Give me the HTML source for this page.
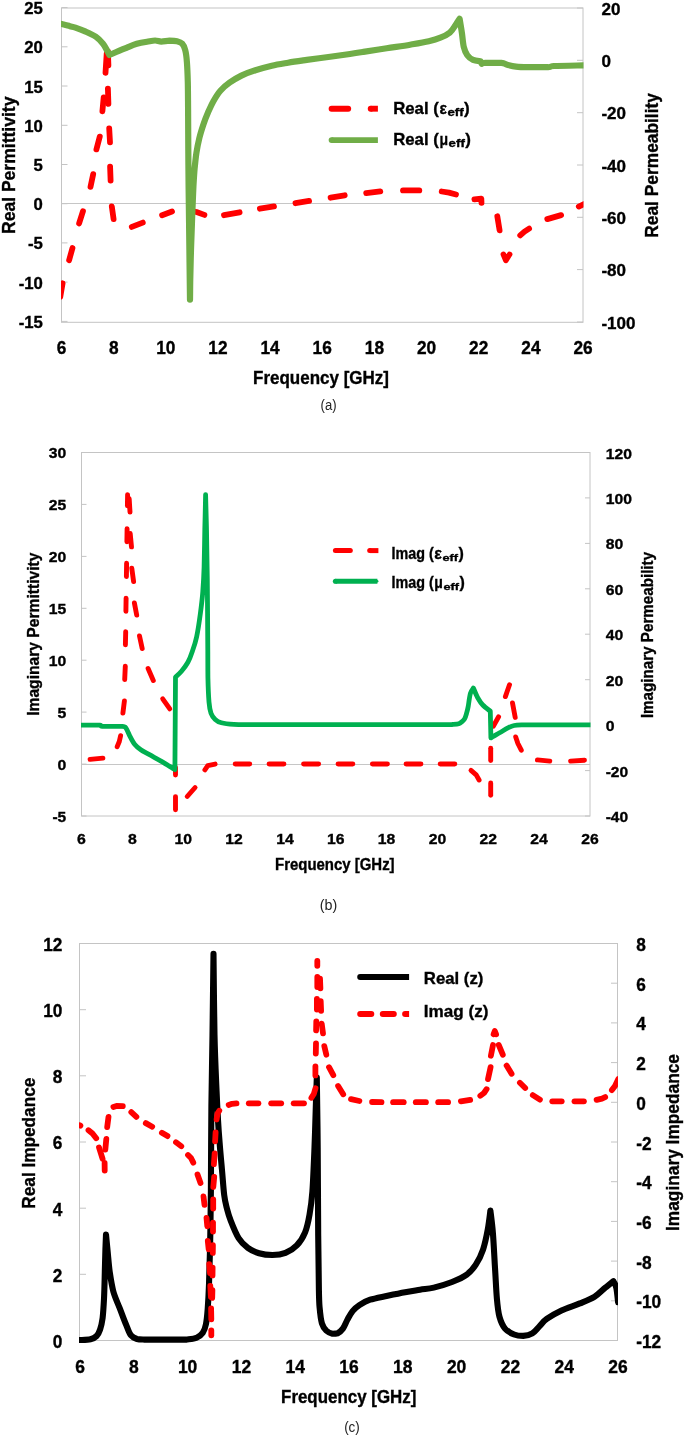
<!DOCTYPE html>
<html><head><meta charset="utf-8"><title>Figure</title>
<style>html,body{margin:0;padding:0;background:#fff;}svg{display:block;will-change:transform;}text{font-family:"Liberation Sans", sans-serif;}</style>
</head><body>
<svg width="685" height="1435" viewBox="0 0 685 1435">
<rect x="0" y="0" width="685" height="1435" fill="#fff"/>
<defs><clipPath id="ca"><rect x="61" y="8" width="522.5" height="314.3"/></clipPath></defs>
<rect x="61.5" y="8" width="521.5" height="314.3" fill="#fff" stroke="#c4c4c4" stroke-width="1"/>
<line x1="61.5" y1="7.6" x2="67.5" y2="7.6" stroke="#c4c4c4" stroke-width="1"/>
<line x1="61.5" y1="46.8" x2="67.5" y2="46.8" stroke="#c4c4c4" stroke-width="1"/>
<line x1="61.5" y1="86" x2="67.5" y2="86" stroke="#c4c4c4" stroke-width="1"/>
<line x1="61.5" y1="125.3" x2="67.5" y2="125.3" stroke="#c4c4c4" stroke-width="1"/>
<line x1="61.5" y1="164.5" x2="67.5" y2="164.5" stroke="#c4c4c4" stroke-width="1"/>
<line x1="61.5" y1="203.7" x2="67.5" y2="203.7" stroke="#c4c4c4" stroke-width="1"/>
<line x1="61.5" y1="242.9" x2="67.5" y2="242.9" stroke="#c4c4c4" stroke-width="1"/>
<line x1="61.5" y1="282.1" x2="67.5" y2="282.1" stroke="#c4c4c4" stroke-width="1"/>
<line x1="61.5" y1="321.4" x2="67.5" y2="321.4" stroke="#c4c4c4" stroke-width="1"/>
<line x1="577" y1="8" x2="583" y2="8" stroke="#c4c4c4" stroke-width="1"/>
<line x1="577" y1="60.3" x2="583" y2="60.3" stroke="#c4c4c4" stroke-width="1"/>
<line x1="577" y1="112.7" x2="583" y2="112.7" stroke="#c4c4c4" stroke-width="1"/>
<line x1="577" y1="165" x2="583" y2="165" stroke="#c4c4c4" stroke-width="1"/>
<line x1="577" y1="217.3" x2="583" y2="217.3" stroke="#c4c4c4" stroke-width="1"/>
<line x1="577" y1="269.6" x2="583" y2="269.6" stroke="#c4c4c4" stroke-width="1"/>
<line x1="577" y1="322" x2="583" y2="322" stroke="#c4c4c4" stroke-width="1"/>
<line x1="61.5" y1="203.5" x2="583" y2="203.5" stroke="#c6c6c6" stroke-width="1.2"/>
<path d="M60.3 296.8L62.6 283.3" fill="none" stroke="#ff0000" stroke-width="5.8" stroke-linecap="round" stroke-linejoin="round" clip-path="url(#ca)"/>
<path d="M69.1 260.2L72.5 248" fill="none" stroke="#ff0000" stroke-width="5.8" stroke-linecap="round" stroke-linejoin="round" clip-path="url(#ca)"/>
<path d="M79.1 223.4L83 211.2" fill="none" stroke="#ff0000" stroke-width="5.8" stroke-linecap="round" stroke-linejoin="round" clip-path="url(#ca)"/>
<path d="M90.5 186.8L93.2 174.1" fill="none" stroke="#ff0000" stroke-width="5.8" stroke-linecap="round" stroke-linejoin="round" clip-path="url(#ca)"/>
<path d="M96.4 149.4L99.8 136.6" fill="none" stroke="#ff0000" stroke-width="5.8" stroke-linecap="round" stroke-linejoin="round" clip-path="url(#ca)"/>
<path d="M102.4 111.3L103.7 97.3" fill="none" stroke="#ff0000" stroke-width="5.8" stroke-linecap="round" stroke-linejoin="round" clip-path="url(#ca)"/>
<path d="M105.5 72.8L106.7 53.7" fill="none" stroke="#ff0000" stroke-width="5.8" stroke-linecap="round" stroke-linejoin="round" clip-path="url(#ca)"/>
<path d="M107.9 51.3L108.4 65.3" fill="none" stroke="#ff0000" stroke-width="5.8" stroke-linecap="round" stroke-linejoin="round" clip-path="url(#ca)"/>
<path d="M107.9 88.6L108.4 103.8" fill="none" stroke="#ff0000" stroke-width="5.8" stroke-linecap="round" stroke-linejoin="round" clip-path="url(#ca)"/>
<path d="M109.2 128.3L110 142.3" fill="none" stroke="#ff0000" stroke-width="5.8" stroke-linecap="round" stroke-linejoin="round" clip-path="url(#ca)"/>
<path d="M110.1 166.7L110.6 180.6" fill="none" stroke="#ff0000" stroke-width="5.8" stroke-linecap="round" stroke-linejoin="round" clip-path="url(#ca)"/>
<path d="M111.8 206.4L113.6 219.1" fill="none" stroke="#ff0000" stroke-width="5.8" stroke-linecap="round" stroke-linejoin="round" clip-path="url(#ca)"/>
<path d="M131.8 226.9L142.8 222.6" fill="none" stroke="#ff0000" stroke-width="5.8" stroke-linecap="round" stroke-linejoin="round" clip-path="url(#ca)"/>
<path d="M162.1 215.2L172 211.5" fill="none" stroke="#ff0000" stroke-width="5.8" stroke-linecap="round" stroke-linejoin="round" clip-path="url(#ca)"/>
<path d="M193.2 211.3L196.5 212L204.4 214.9" fill="none" stroke="#ff0000" stroke-width="5.8" stroke-linecap="round" stroke-linejoin="round" clip-path="url(#ca)"/>
<path d="M224 215.2L239.6 212.3" fill="none" stroke="#ff0000" stroke-width="5.8" stroke-linecap="round" stroke-linejoin="round" clip-path="url(#ca)"/>
<path d="M259.9 208.7L274 206.4" fill="none" stroke="#ff0000" stroke-width="5.8" stroke-linecap="round" stroke-linejoin="round" clip-path="url(#ca)"/>
<path d="M295.5 203.2L309.1 200.9" fill="none" stroke="#ff0000" stroke-width="5.8" stroke-linecap="round" stroke-linejoin="round" clip-path="url(#ca)"/>
<path d="M330.6 197.7L344.7 195.3" fill="none" stroke="#ff0000" stroke-width="5.8" stroke-linecap="round" stroke-linejoin="round" clip-path="url(#ca)"/>
<path d="M366.2 193.1L380.3 191.4" fill="none" stroke="#ff0000" stroke-width="5.8" stroke-linecap="round" stroke-linejoin="round" clip-path="url(#ca)"/>
<path d="M403 190.4L419.3 190.4" fill="none" stroke="#ff0000" stroke-width="5.8" stroke-linecap="round" stroke-linejoin="round" clip-path="url(#ca)"/>
<path d="M441.7 191.5L449 192.6L456 194.5" fill="none" stroke="#ff0000" stroke-width="5.8" stroke-linecap="round" stroke-linejoin="round" clip-path="url(#ca)"/>
<path d="M474.4 199.4L481.3 198.6L481.5 202.9" fill="none" stroke="#ff0000" stroke-width="5.8" stroke-linecap="round" stroke-linejoin="round" clip-path="url(#ca)"/>
<path d="M497.3 216.3L499.6 230.4" fill="none" stroke="#ff0000" stroke-width="5.8" stroke-linecap="round" stroke-linejoin="round" clip-path="url(#ca)"/>
<path d="M520.2 235.4L524.5 231.6L529.1 228.6" fill="none" stroke="#ff0000" stroke-width="5.8" stroke-linecap="round" stroke-linejoin="round" clip-path="url(#ca)"/>
<path d="M547.3 219.1L561.1 215.1" fill="none" stroke="#ff0000" stroke-width="5.8" stroke-linecap="round" stroke-linejoin="round" clip-path="url(#ca)"/>
<path d="M578.8 206.6L584.5 203.9" fill="none" stroke="#ff0000" stroke-width="5.8" stroke-linecap="round" stroke-linejoin="round" clip-path="url(#ca)"/>
<path d="M503.4 254.4L505.9 260.4L509.6 254.4" fill="none" stroke="#ff0000" stroke-width="5.6" stroke-linecap="round" stroke-linejoin="round" clip-path="url(#ca)"/>
<path d="M61.5 24C62.9 24.4 67.6 25.6 69.9 26.2C72.2 26.8 72.8 26.7 75.4 27.6C78 28.5 82.3 30.1 85.7 31.6C89.1 33.1 93 34.8 95.9 36.8C98.8 38.8 101.1 41.4 103 43.7C104.9 46 106 48.7 107.1 50.6C108.2 52.5 109 54.3 109.4 55C110.6 54.5 113.5 53.2 116.3 52C119.1 50.8 123.1 49.2 126.5 47.8C129.9 46.4 133.4 44.8 136.8 43.8C140.2 42.8 143.9 42.2 147 41.7C150.1 41.2 152.7 40.5 155.1 40.5C157.5 40.5 158.9 41.6 161.3 41.6C163.7 41.6 166.8 40.8 169.4 40.7C172 40.7 174.9 40.7 177 41.2C179.1 41.7 180.8 42.2 182.2 43.7C183.6 45.2 184.4 47 185.2 50C186 53 186.5 56.7 186.9 62C187.3 67.3 187.6 74 187.8 82C188 90 188 98.7 188.1 110C188.2 121.3 188.2 137.2 188.3 150C188.4 162.8 188.4 170.3 188.6 187C188.8 203.7 189.2 231.2 189.4 250C189.6 268.8 189.9 291.3 190 299.6C190.1 295.9 190.1 285.6 190.3 277.2C190.5 268.8 190.7 258.7 191 249.4C191.3 240.1 191.7 230.8 192 221.5C192.3 212.2 192.8 200.6 193.1 193.6C193.4 186.6 193.5 184.3 193.8 179.7C194.1 175 194.4 170.3 194.9 165.7C195.4 161 195.8 156.4 196.6 151.8C197.3 147.2 198.3 142.5 199.4 137.9C200.5 133.3 202 128.7 203.4 124.5C204.8 120.3 206.1 116.9 207.8 113C209.5 109.1 211.3 104.9 213.4 101.2C215.5 97.5 217.7 93.8 220.4 90.7C223.1 87.6 226.2 85.1 229.7 82.6C233.2 80.1 237.1 77.7 241.4 75.6C245.7 73.5 250.3 71.8 255.4 70.2C260.5 68.6 266.4 67 271.8 65.7C277.2 64.5 282.3 63.7 288.1 62.7C293.9 61.7 299.8 60.9 306.8 59.9C313.8 58.9 323 57.8 330.2 56.8C337.4 55.8 344.5 54.8 350 54C355.5 53.2 357.3 52.9 363.4 51.9C369.5 50.9 378.9 49.4 386.7 48.2C394.5 47 403.1 45.9 410.1 44.7C417.1 43.5 423.8 42.4 428.8 41.2C433.9 40 436.9 39.1 440.4 37.7C443.9 36.3 447.3 34.7 449.8 32.6C452.3 30.5 454 27.2 455.6 24.9C457.2 22.6 458.9 19.8 459.6 18.8C460 21.2 461.2 28.3 461.9 33C462.6 37.7 462.9 43.3 463.8 47C464.7 50.7 465.8 53.1 467.3 55.2C468.9 57.4 470.9 58.9 473.1 59.9C475.3 60.9 479.3 61 480.5 61.2L481.8 63.9C482.4 63.7 482 63 485.3 62.8C488.6 62.8 497.8 62.8 501.4 62.8C505 63.1 504.8 64.2 507.2 64.8C509.6 65.4 512.6 66.2 516 66.6C519.4 67 522.2 67.1 527.6 67.2C533 67.2 543.7 67.2 548.1 67.2C552.5 67 548.1 66.3 553.9 66C559.8 65.7 578.6 65.5 583.5 65.4" fill="none" stroke="#70ad47" stroke-width="6.2" stroke-linecap="round" stroke-linejoin="round" clip-path="url(#ca)"/>
<path d="M331.6 108.7L348.2 108.7" fill="none" stroke="#ff0000" stroke-width="5.9" stroke-linecap="round" stroke-linejoin="round"/>
<path d="M370.7 108.7L377.9 108.7" fill="none" stroke="#ff0000" stroke-width="5.9" stroke-linecap="butt" stroke-linejoin="round"/>
<circle cx="370.7" cy="108.7" r="2.95" fill="#ff0000"/>
<path d="M331.6 140.1L377.9 140.1" fill="none" stroke="#70ad47" stroke-width="5.9" stroke-linecap="butt" stroke-linejoin="round"/>
<circle cx="331.6" cy="140.1" r="2.95" fill="#70ad47"/>
<text x="393.2" y="113.6" font-size="17" font-weight="bold" text-anchor="start" fill="#000" stroke="#000" stroke-width="0.35" textLength="45.6" lengthAdjust="spacingAndGlyphs">Real (</text>
<text x="439.4" y="113.6" font-size="17" font-weight="bold" text-anchor="start" fill="#000" stroke="#000" stroke-width="0.35" textLength="7.4" lengthAdjust="spacingAndGlyphs">ε</text>
<text x="447.4" y="115.8" font-size="10.2" font-weight="bold" text-anchor="start" fill="#000" stroke="#000" stroke-width="0.35" textLength="16.2" lengthAdjust="spacingAndGlyphs">eff</text>
<text x="464" y="113.6" font-size="17" font-weight="bold" text-anchor="start" fill="#000" stroke="#000" stroke-width="0.35">)</text>
<text x="393.2" y="144.6" font-size="17" font-weight="bold" text-anchor="start" fill="#000" stroke="#000" stroke-width="0.35" textLength="45.6" lengthAdjust="spacingAndGlyphs">Real (</text>
<text x="439.4" y="144.6" font-size="17" font-weight="bold" text-anchor="start" fill="#000" stroke="#000" stroke-width="0.35" textLength="8.6" lengthAdjust="spacingAndGlyphs">μ</text>
<text x="448.6" y="146.8" font-size="10.2" font-weight="bold" text-anchor="start" fill="#000" stroke="#000" stroke-width="0.35" textLength="16.2" lengthAdjust="spacingAndGlyphs">eff</text>
<text x="465.2" y="144.6" font-size="17" font-weight="bold" text-anchor="start" fill="#000" stroke="#000" stroke-width="0.35">)</text>
<text x="42.9" y="14.1" font-size="17" font-weight="bold" text-anchor="end" fill="#000" stroke="#000" stroke-width="0.35" textLength="18.6" lengthAdjust="spacingAndGlyphs">25</text>
<text x="42.9" y="53.3" font-size="17" font-weight="bold" text-anchor="end" fill="#000" stroke="#000" stroke-width="0.35" textLength="18.6" lengthAdjust="spacingAndGlyphs">20</text>
<text x="42.9" y="92.5" font-size="17" font-weight="bold" text-anchor="end" fill="#000" stroke="#000" stroke-width="0.35" textLength="18.6" lengthAdjust="spacingAndGlyphs">15</text>
<text x="42.9" y="131.8" font-size="17" font-weight="bold" text-anchor="end" fill="#000" stroke="#000" stroke-width="0.35" textLength="18.6" lengthAdjust="spacingAndGlyphs">10</text>
<text x="42.9" y="171" font-size="17" font-weight="bold" text-anchor="end" fill="#000" stroke="#000" stroke-width="0.35" textLength="9.3" lengthAdjust="spacingAndGlyphs">5</text>
<text x="42.9" y="210.2" font-size="17" font-weight="bold" text-anchor="end" fill="#000" stroke="#000" stroke-width="0.35" textLength="9.3" lengthAdjust="spacingAndGlyphs">0</text>
<text x="42.9" y="249.4" font-size="17" font-weight="bold" text-anchor="end" fill="#000" stroke="#000" stroke-width="0.35" textLength="14.9" lengthAdjust="spacingAndGlyphs">-5</text>
<text x="42.9" y="288.6" font-size="17" font-weight="bold" text-anchor="end" fill="#000" stroke="#000" stroke-width="0.35" textLength="24.2" lengthAdjust="spacingAndGlyphs">-10</text>
<text x="42.9" y="327.9" font-size="17" font-weight="bold" text-anchor="end" fill="#000" stroke="#000" stroke-width="0.35" textLength="24.2" lengthAdjust="spacingAndGlyphs">-15</text>
<text x="601.4" y="14.5" font-size="17" font-weight="bold" text-anchor="start" fill="#000" stroke="#000" stroke-width="0.35" textLength="19" lengthAdjust="spacingAndGlyphs">20</text>
<text x="601.4" y="66.8" font-size="17" font-weight="bold" text-anchor="start" fill="#000" stroke="#000" stroke-width="0.35" textLength="9.5" lengthAdjust="spacingAndGlyphs">0</text>
<text x="601.4" y="119.2" font-size="17" font-weight="bold" text-anchor="start" fill="#000" stroke="#000" stroke-width="0.35" textLength="24.6" lengthAdjust="spacingAndGlyphs">-20</text>
<text x="601.4" y="171.5" font-size="17" font-weight="bold" text-anchor="start" fill="#000" stroke="#000" stroke-width="0.35" textLength="24.6" lengthAdjust="spacingAndGlyphs">-40</text>
<text x="601.4" y="223.8" font-size="17" font-weight="bold" text-anchor="start" fill="#000" stroke="#000" stroke-width="0.35" textLength="24.6" lengthAdjust="spacingAndGlyphs">-60</text>
<text x="601.4" y="276.1" font-size="17" font-weight="bold" text-anchor="start" fill="#000" stroke="#000" stroke-width="0.35" textLength="24.6" lengthAdjust="spacingAndGlyphs">-80</text>
<text x="601.4" y="328.5" font-size="17" font-weight="bold" text-anchor="start" fill="#000" stroke="#000" stroke-width="0.35" textLength="34.1" lengthAdjust="spacingAndGlyphs">-100</text>
<text x="61.5" y="353.5" font-size="17.6" font-weight="bold" text-anchor="middle" fill="#000" stroke="#000" stroke-width="0.35" textLength="9.6" lengthAdjust="spacingAndGlyphs">6</text>
<text x="113.7" y="353.5" font-size="17.6" font-weight="bold" text-anchor="middle" fill="#000" stroke="#000" stroke-width="0.35" textLength="9.6" lengthAdjust="spacingAndGlyphs">8</text>
<text x="165.8" y="353.5" font-size="17.6" font-weight="bold" text-anchor="middle" fill="#000" stroke="#000" stroke-width="0.35" textLength="19.2" lengthAdjust="spacingAndGlyphs">10</text>
<text x="217.9" y="353.5" font-size="17.6" font-weight="bold" text-anchor="middle" fill="#000" stroke="#000" stroke-width="0.35" textLength="19.2" lengthAdjust="spacingAndGlyphs">12</text>
<text x="270.1" y="353.5" font-size="17.6" font-weight="bold" text-anchor="middle" fill="#000" stroke="#000" stroke-width="0.35" textLength="19.2" lengthAdjust="spacingAndGlyphs">14</text>
<text x="322.2" y="353.5" font-size="17.6" font-weight="bold" text-anchor="middle" fill="#000" stroke="#000" stroke-width="0.35" textLength="19.2" lengthAdjust="spacingAndGlyphs">16</text>
<text x="374.4" y="353.5" font-size="17.6" font-weight="bold" text-anchor="middle" fill="#000" stroke="#000" stroke-width="0.35" textLength="19.2" lengthAdjust="spacingAndGlyphs">18</text>
<text x="426.6" y="353.5" font-size="17.6" font-weight="bold" text-anchor="middle" fill="#000" stroke="#000" stroke-width="0.35" textLength="19.2" lengthAdjust="spacingAndGlyphs">20</text>
<text x="478.7" y="353.5" font-size="17.6" font-weight="bold" text-anchor="middle" fill="#000" stroke="#000" stroke-width="0.35" textLength="19.2" lengthAdjust="spacingAndGlyphs">22</text>
<text x="530.9" y="353.5" font-size="17.6" font-weight="bold" text-anchor="middle" fill="#000" stroke="#000" stroke-width="0.35" textLength="19.2" lengthAdjust="spacingAndGlyphs">24</text>
<text x="583" y="353.5" font-size="17.6" font-weight="bold" text-anchor="middle" fill="#000" stroke="#000" stroke-width="0.35" textLength="19.2" lengthAdjust="spacingAndGlyphs">26</text>
<text x="321" y="383.8" font-size="17.6" font-weight="bold" text-anchor="middle" fill="#000" stroke="#000" stroke-width="0.35" textLength="136" lengthAdjust="spacingAndGlyphs">Frequency [GHz]</text>
<text x="328.6" y="410" font-size="15.5" font-weight="normal" text-anchor="middle" fill="#222" textLength="16" lengthAdjust="spacingAndGlyphs">(a)</text>
<text x="14.6" y="165.3" font-size="17.6" font-weight="bold" text-anchor="middle" fill="#000" stroke="#000" stroke-width="0.35" textLength="137.4" lengthAdjust="spacingAndGlyphs" transform="rotate(-90 14.6 165.3)">Real Permittivity</text>
<text x="658.4" y="165.4" font-size="17.6" font-weight="bold" text-anchor="middle" fill="#000" stroke="#000" stroke-width="0.35" textLength="144.6" lengthAdjust="spacingAndGlyphs" transform="rotate(-90 658.4 165.4)">Real Permeability</text>
<defs><clipPath id="cb"><rect x="81" y="452.5" width="509.5" height="363.5"/></clipPath></defs>
<rect x="81.5" y="452.5" width="508.5" height="363.5" fill="#fff" stroke="#c4c4c4" stroke-width="1"/>
<line x1="81.5" y1="452.5" x2="86.5" y2="452.5" stroke="#c4c4c4" stroke-width="1"/>
<line x1="81.5" y1="504.4" x2="86.5" y2="504.4" stroke="#c4c4c4" stroke-width="1"/>
<line x1="81.5" y1="556.4" x2="86.5" y2="556.4" stroke="#c4c4c4" stroke-width="1"/>
<line x1="81.5" y1="608.3" x2="86.5" y2="608.3" stroke="#c4c4c4" stroke-width="1"/>
<line x1="81.5" y1="660.2" x2="86.5" y2="660.2" stroke="#c4c4c4" stroke-width="1"/>
<line x1="81.5" y1="712.1" x2="86.5" y2="712.1" stroke="#c4c4c4" stroke-width="1"/>
<line x1="81.5" y1="764.1" x2="86.5" y2="764.1" stroke="#c4c4c4" stroke-width="1"/>
<line x1="81.5" y1="816" x2="86.5" y2="816" stroke="#c4c4c4" stroke-width="1"/>
<line x1="585" y1="452.5" x2="590" y2="452.5" stroke="#c4c4c4" stroke-width="1"/>
<line x1="585" y1="497.9" x2="590" y2="497.9" stroke="#c4c4c4" stroke-width="1"/>
<line x1="585" y1="543.4" x2="590" y2="543.4" stroke="#c4c4c4" stroke-width="1"/>
<line x1="585" y1="588.8" x2="590" y2="588.8" stroke="#c4c4c4" stroke-width="1"/>
<line x1="585" y1="634.2" x2="590" y2="634.2" stroke="#c4c4c4" stroke-width="1"/>
<line x1="585" y1="679.7" x2="590" y2="679.7" stroke="#c4c4c4" stroke-width="1"/>
<line x1="585" y1="725.1" x2="590" y2="725.1" stroke="#c4c4c4" stroke-width="1"/>
<line x1="585" y1="770.6" x2="590" y2="770.6" stroke="#c4c4c4" stroke-width="1"/>
<line x1="585" y1="816" x2="590" y2="816" stroke="#c4c4c4" stroke-width="1"/>
<line x1="81.5" y1="764.5" x2="590" y2="764.5" stroke="#c6c6c6" stroke-width="1.2"/>
<path d="M90.1 759.4L102.9 758.1" fill="none" stroke="#ff0000" stroke-width="4.9" stroke-linecap="round" stroke-linejoin="round" clip-path="url(#cb)"/>
<path d="M117.2 746.7L119.3 741.5L120.6 735.7" fill="none" stroke="#ff0000" stroke-width="4.9" stroke-linecap="round" stroke-linejoin="round" clip-path="url(#cb)"/>
<path d="M122.9 713.1L124.4 701" fill="none" stroke="#ff0000" stroke-width="4.9" stroke-linecap="round" stroke-linejoin="round" clip-path="url(#cb)"/>
<path d="M124.7 679.6L125.3 666.2" fill="none" stroke="#ff0000" stroke-width="4.9" stroke-linecap="round" stroke-linejoin="round" clip-path="url(#cb)"/>
<path d="M125.4 644.9L125.7 631.6" fill="none" stroke="#ff0000" stroke-width="4.9" stroke-linecap="round" stroke-linejoin="round" clip-path="url(#cb)"/>
<path d="M125.9 611.4L126.1 598.1" fill="none" stroke="#ff0000" stroke-width="4.9" stroke-linecap="round" stroke-linejoin="round" clip-path="url(#cb)"/>
<path d="M126.4 576.6L126.6 563.3" fill="none" stroke="#ff0000" stroke-width="4.9" stroke-linecap="round" stroke-linejoin="round" clip-path="url(#cb)"/>
<path d="M126.9 541.9L127.1 528.6" fill="none" stroke="#ff0000" stroke-width="4.9" stroke-linecap="round" stroke-linejoin="round" clip-path="url(#cb)"/>
<path d="M127.4 505.9L127.6 494.6" fill="none" stroke="#ff0000" stroke-width="4.9" stroke-linecap="round" stroke-linejoin="round" clip-path="url(#cb)"/>
<path d="M129.2 498.8L130 512.1" fill="none" stroke="#ff0000" stroke-width="4.9" stroke-linecap="round" stroke-linejoin="round" clip-path="url(#cb)"/>
<path d="M130.2 533.5L131.5 546.9" fill="none" stroke="#ff0000" stroke-width="4.9" stroke-linecap="round" stroke-linejoin="round" clip-path="url(#cb)"/>
<path d="M131.8 568.3L133.6 581.6" fill="none" stroke="#ff0000" stroke-width="4.9" stroke-linecap="round" stroke-linejoin="round" clip-path="url(#cb)"/>
<path d="M134.4 603L136.7 615.1" fill="none" stroke="#ff0000" stroke-width="4.9" stroke-linecap="round" stroke-linejoin="round" clip-path="url(#cb)"/>
<path d="M139.5 635.9L142.2 648.6" fill="none" stroke="#ff0000" stroke-width="4.9" stroke-linecap="round" stroke-linejoin="round" clip-path="url(#cb)"/>
<path d="M148.1 668.6L153.3 680.4" fill="none" stroke="#ff0000" stroke-width="4.9" stroke-linecap="round" stroke-linejoin="round" clip-path="url(#cb)"/>
<path d="M162.7 698.8L169.8 708.8" fill="none" stroke="#ff0000" stroke-width="4.9" stroke-linecap="round" stroke-linejoin="round" clip-path="url(#cb)"/>
<path d="M175.5 767.5L175.5 775" fill="none" stroke="#ff0000" stroke-width="4.9" stroke-linecap="round" stroke-linejoin="round" clip-path="url(#cb)"/>
<path d="M175.5 796.6L175.5 809.8" fill="none" stroke="#ff0000" stroke-width="4.9" stroke-linecap="round" stroke-linejoin="round" clip-path="url(#cb)"/>
<path d="M187.2 796.5L195.1 787.5" fill="none" stroke="#ff0000" stroke-width="4.9" stroke-linecap="round" stroke-linejoin="round" clip-path="url(#cb)"/>
<path d="M204.9 769.8L207.8 765.6L215.1 764.1" fill="none" stroke="#ff0000" stroke-width="4.9" stroke-linecap="round" stroke-linejoin="round" clip-path="url(#cb)"/>
<path d="M235.2 764L249.7 764" fill="none" stroke="#ff0000" stroke-width="4.9" stroke-linecap="round" stroke-linejoin="round" clip-path="url(#cb)"/>
<path d="M269.1 764L283.9 764" fill="none" stroke="#ff0000" stroke-width="4.9" stroke-linecap="round" stroke-linejoin="round" clip-path="url(#cb)"/>
<path d="M303.6 764L318.6 764" fill="none" stroke="#ff0000" stroke-width="4.9" stroke-linecap="round" stroke-linejoin="round" clip-path="url(#cb)"/>
<path d="M338.1 764L352.8 764" fill="none" stroke="#ff0000" stroke-width="4.9" stroke-linecap="round" stroke-linejoin="round" clip-path="url(#cb)"/>
<path d="M372.4 764L387.4 764" fill="none" stroke="#ff0000" stroke-width="4.9" stroke-linecap="round" stroke-linejoin="round" clip-path="url(#cb)"/>
<path d="M406.1 764L420.9 764" fill="none" stroke="#ff0000" stroke-width="4.9" stroke-linecap="round" stroke-linejoin="round" clip-path="url(#cb)"/>
<path d="M440.2 764L454.8 764" fill="none" stroke="#ff0000" stroke-width="4.9" stroke-linecap="round" stroke-linejoin="round" clip-path="url(#cb)"/>
<path d="M471 770.4L476.2 774.9L479.1 780" fill="none" stroke="#ff0000" stroke-width="4.9" stroke-linecap="round" stroke-linejoin="round" clip-path="url(#cb)"/>
<path d="M490.7 783L490.7 795.2" fill="none" stroke="#ff0000" stroke-width="4.9" stroke-linecap="round" stroke-linejoin="round" clip-path="url(#cb)"/>
<path d="M490.7 748.2L490.7 760.5" fill="none" stroke="#ff0000" stroke-width="4.9" stroke-linecap="round" stroke-linejoin="round" clip-path="url(#cb)"/>
<path d="M493.3 726.2L498.6 716.8" fill="none" stroke="#ff0000" stroke-width="4.9" stroke-linecap="round" stroke-linejoin="round" clip-path="url(#cb)"/>
<path d="M505.4 696.6L509.5 684.8" fill="none" stroke="#ff0000" stroke-width="4.9" stroke-linecap="round" stroke-linejoin="round" clip-path="url(#cb)"/>
<path d="M512.5 703L515.2 717.4" fill="none" stroke="#ff0000" stroke-width="4.9" stroke-linecap="round" stroke-linejoin="round" clip-path="url(#cb)"/>
<path d="M515.7 736.9L517.9 743.5L521.3 750.2" fill="none" stroke="#ff0000" stroke-width="4.9" stroke-linecap="round" stroke-linejoin="round" clip-path="url(#cb)"/>
<path d="M537.4 759.9L549.8 761.1" fill="none" stroke="#ff0000" stroke-width="4.9" stroke-linecap="round" stroke-linejoin="round" clip-path="url(#cb)"/>
<path d="M570.6 761.1L584.5 760.2" fill="none" stroke="#ff0000" stroke-width="4.9" stroke-linecap="round" stroke-linejoin="round" clip-path="url(#cb)"/>
<path d="M81.7 725.1C84.7 725.1 96.4 725.1 99.8 725.1C102.3 725.3 99.8 726.2 102.3 726.4C106 726.4 118.3 726.4 122.2 726.4C125.9 726.7 124.7 726.6 125.9 728.1C127.1 729.6 128.2 732.9 129.6 735.6C131 738.3 132.7 741.9 134.6 744.2C136.5 746.6 138.3 748 140.8 749.7C143.3 751.5 146 752.7 149.5 754.7C153 756.7 157.7 759.1 161.9 761.6C166.1 764.1 172.7 768.3 174.9 769.6L175.5 677.2C176.5 676.2 179.6 673.5 181.7 671C183.8 668.5 186.1 665.5 187.9 662.3C189.7 659 190.9 655.7 192.3 651.5C193.8 647.3 195.3 643.2 196.6 637C197.9 630.8 199.3 621.5 200.3 614C201.3 606.5 202.2 599.6 202.8 591.7C203.4 583.9 203.8 577.2 204.1 566.9C204.4 556.5 204.6 541.6 204.8 529.6C205.1 517.6 205.5 500.4 205.6 494.6C205.8 500.4 206.2 515.5 206.5 529.6C206.8 543.7 207.1 559.2 207.3 579.3C207.5 599.4 207.7 633.7 207.8 650C207.9 666.3 207.8 668.5 207.9 677.2C208.1 685.9 208.5 696 209 702C209.5 708 210 710.3 211 713.2C212 716.1 213.5 717.8 215.2 719.4C216.9 721 218.3 721.9 221.4 722.7C224.5 723.5 229.9 724.1 233.8 724.4C237.7 724.7 243.1 724.7 245 724.7L452 724.5C453.1 724.4 457.1 724.3 458.8 723.8C460.5 723.3 461 722.4 462 721.6C463 720.8 463.9 720.2 464.6 718.9C465.4 717.5 465.9 715.6 466.5 713.5C467.1 711.4 467.6 709.9 468.2 706.5C468.8 703.1 469.5 696.5 470.4 693.4C471.3 690.3 472.9 688.9 473.4 688C474.1 689.6 476.1 694.9 477.7 697.7C479.3 700.5 480.7 702.8 482.8 705C484.9 707.2 489.1 710.2 490.3 711.2L490.9 737.9C492.3 737 496.7 734.5 499.6 732.8C502.5 731.1 506 728.9 508.4 727.7C510.8 726.5 511.8 726 514.2 725.5C516.6 725 521.5 724.9 523 724.8L590.6 724.9" fill="none" stroke="#00b050" stroke-width="4.8" stroke-linecap="round" stroke-linejoin="round" clip-path="url(#cb)"/>
<path d="M335.4 550.6L350.3 550.6" fill="none" stroke="#ff0000" stroke-width="5" stroke-linecap="round" stroke-linejoin="round"/>
<path d="M369.7 550.6L378.4 550.6" fill="none" stroke="#ff0000" stroke-width="5" stroke-linecap="butt" stroke-linejoin="round"/>
<circle cx="369.7" cy="550.6" r="2.5" fill="#ff0000"/>
<path d="M335.4 581.2L377.4 581.2" fill="none" stroke="#00b050" stroke-width="5.1" stroke-linecap="butt" stroke-linejoin="round"/>
<circle cx="335.4" cy="581.2" r="2.55" fill="#00b050"/>
<circle cx="377.2" cy="581.2" r="1.2" fill="#00b050"/>
<text x="391.5" y="559.3" font-size="16" font-weight="bold" text-anchor="start" fill="#000" stroke="#000" stroke-width="0.35" textLength="42.2" lengthAdjust="spacingAndGlyphs">Imag (</text>
<text x="434.3" y="559.3" font-size="16" font-weight="bold" text-anchor="start" fill="#000" stroke="#000" stroke-width="0.35" textLength="7.6" lengthAdjust="spacingAndGlyphs">ε</text>
<text x="442.5" y="561.4" font-size="9.6" font-weight="bold" text-anchor="start" fill="#000" stroke="#000" stroke-width="0.35" textLength="15.6" lengthAdjust="spacingAndGlyphs">eff</text>
<text x="458.5" y="559.3" font-size="16" font-weight="bold" text-anchor="start" fill="#000" stroke="#000" stroke-width="0.35">)</text>
<text x="391.5" y="587.6" font-size="16" font-weight="bold" text-anchor="start" fill="#000" stroke="#000" stroke-width="0.35" textLength="42.2" lengthAdjust="spacingAndGlyphs">Imag (</text>
<text x="434.3" y="587.6" font-size="16" font-weight="bold" text-anchor="start" fill="#000" stroke="#000" stroke-width="0.35" textLength="8.6" lengthAdjust="spacingAndGlyphs">μ</text>
<text x="443.5" y="589.7" font-size="9.6" font-weight="bold" text-anchor="start" fill="#000" stroke="#000" stroke-width="0.35" textLength="15.6" lengthAdjust="spacingAndGlyphs">eff</text>
<text x="459.5" y="587.6" font-size="16" font-weight="bold" text-anchor="start" fill="#000" stroke="#000" stroke-width="0.35">)</text>
<text x="66.2" y="458.1" font-size="15.3" font-weight="bold" text-anchor="end" fill="#000" stroke="#000" stroke-width="0.35" textLength="17.5" lengthAdjust="spacingAndGlyphs">30</text>
<text x="66.2" y="510" font-size="15.3" font-weight="bold" text-anchor="end" fill="#000" stroke="#000" stroke-width="0.35" textLength="17.5" lengthAdjust="spacingAndGlyphs">25</text>
<text x="66.2" y="562" font-size="15.3" font-weight="bold" text-anchor="end" fill="#000" stroke="#000" stroke-width="0.35" textLength="17.5" lengthAdjust="spacingAndGlyphs">20</text>
<text x="66.2" y="613.9" font-size="15.3" font-weight="bold" text-anchor="end" fill="#000" stroke="#000" stroke-width="0.35" textLength="17.5" lengthAdjust="spacingAndGlyphs">15</text>
<text x="66.2" y="665.8" font-size="15.3" font-weight="bold" text-anchor="end" fill="#000" stroke="#000" stroke-width="0.35" textLength="17.5" lengthAdjust="spacingAndGlyphs">10</text>
<text x="66.2" y="717.7" font-size="15.3" font-weight="bold" text-anchor="end" fill="#000" stroke="#000" stroke-width="0.35" textLength="8.8" lengthAdjust="spacingAndGlyphs">5</text>
<text x="66.2" y="769.7" font-size="15.3" font-weight="bold" text-anchor="end" fill="#000" stroke="#000" stroke-width="0.35" textLength="8.8" lengthAdjust="spacingAndGlyphs">0</text>
<text x="66.2" y="821.6" font-size="15.3" font-weight="bold" text-anchor="end" fill="#000" stroke="#000" stroke-width="0.35" textLength="13.8" lengthAdjust="spacingAndGlyphs">-5</text>
<text x="605.7" y="458.5" font-size="15.3" font-weight="bold" text-anchor="start" fill="#000" stroke="#000" stroke-width="0.35" textLength="26.2" lengthAdjust="spacingAndGlyphs">120</text>
<text x="605.7" y="503.9" font-size="15.3" font-weight="bold" text-anchor="start" fill="#000" stroke="#000" stroke-width="0.35" textLength="26.2" lengthAdjust="spacingAndGlyphs">100</text>
<text x="605.7" y="549.4" font-size="15.3" font-weight="bold" text-anchor="start" fill="#000" stroke="#000" stroke-width="0.35" textLength="17.5" lengthAdjust="spacingAndGlyphs">80</text>
<text x="605.7" y="594.8" font-size="15.3" font-weight="bold" text-anchor="start" fill="#000" stroke="#000" stroke-width="0.35" textLength="17.5" lengthAdjust="spacingAndGlyphs">60</text>
<text x="605.7" y="640.2" font-size="15.3" font-weight="bold" text-anchor="start" fill="#000" stroke="#000" stroke-width="0.35" textLength="17.5" lengthAdjust="spacingAndGlyphs">40</text>
<text x="605.7" y="685.7" font-size="15.3" font-weight="bold" text-anchor="start" fill="#000" stroke="#000" stroke-width="0.35" textLength="17.5" lengthAdjust="spacingAndGlyphs">20</text>
<text x="605.7" y="731.1" font-size="15.3" font-weight="bold" text-anchor="start" fill="#000" stroke="#000" stroke-width="0.35" textLength="8.8" lengthAdjust="spacingAndGlyphs">0</text>
<text x="605.7" y="776.6" font-size="15.3" font-weight="bold" text-anchor="start" fill="#000" stroke="#000" stroke-width="0.35" textLength="22.5" lengthAdjust="spacingAndGlyphs">-20</text>
<text x="605.7" y="822" font-size="15.3" font-weight="bold" text-anchor="start" fill="#000" stroke="#000" stroke-width="0.35" textLength="22.5" lengthAdjust="spacingAndGlyphs">-40</text>
<text x="81.5" y="844.3" font-size="15.3" font-weight="bold" text-anchor="middle" fill="#000" stroke="#000" stroke-width="0.35" textLength="8.8" lengthAdjust="spacingAndGlyphs">6</text>
<text x="132.3" y="844.3" font-size="15.3" font-weight="bold" text-anchor="middle" fill="#000" stroke="#000" stroke-width="0.35" textLength="8.8" lengthAdjust="spacingAndGlyphs">8</text>
<text x="183.2" y="844.3" font-size="15.3" font-weight="bold" text-anchor="middle" fill="#000" stroke="#000" stroke-width="0.35" textLength="17.5" lengthAdjust="spacingAndGlyphs">10</text>
<text x="234.1" y="844.3" font-size="15.3" font-weight="bold" text-anchor="middle" fill="#000" stroke="#000" stroke-width="0.35" textLength="17.5" lengthAdjust="spacingAndGlyphs">12</text>
<text x="284.9" y="844.3" font-size="15.3" font-weight="bold" text-anchor="middle" fill="#000" stroke="#000" stroke-width="0.35" textLength="17.5" lengthAdjust="spacingAndGlyphs">14</text>
<text x="335.8" y="844.3" font-size="15.3" font-weight="bold" text-anchor="middle" fill="#000" stroke="#000" stroke-width="0.35" textLength="17.5" lengthAdjust="spacingAndGlyphs">16</text>
<text x="386.6" y="844.3" font-size="15.3" font-weight="bold" text-anchor="middle" fill="#000" stroke="#000" stroke-width="0.35" textLength="17.5" lengthAdjust="spacingAndGlyphs">18</text>
<text x="437.4" y="844.3" font-size="15.3" font-weight="bold" text-anchor="middle" fill="#000" stroke="#000" stroke-width="0.35" textLength="17.5" lengthAdjust="spacingAndGlyphs">20</text>
<text x="488.3" y="844.3" font-size="15.3" font-weight="bold" text-anchor="middle" fill="#000" stroke="#000" stroke-width="0.35" textLength="17.5" lengthAdjust="spacingAndGlyphs">22</text>
<text x="539.1" y="844.3" font-size="15.3" font-weight="bold" text-anchor="middle" fill="#000" stroke="#000" stroke-width="0.35" textLength="17.5" lengthAdjust="spacingAndGlyphs">24</text>
<text x="590" y="844.3" font-size="15.3" font-weight="bold" text-anchor="middle" fill="#000" stroke="#000" stroke-width="0.35" textLength="17.5" lengthAdjust="spacingAndGlyphs">26</text>
<text x="334.8" y="869.6" font-size="15.8" font-weight="bold" text-anchor="middle" fill="#000" stroke="#000" stroke-width="0.35" textLength="119.6" lengthAdjust="spacingAndGlyphs">Frequency [GHz]</text>
<text x="328.6" y="909.6" font-size="15.5" font-weight="normal" text-anchor="middle" fill="#222" textLength="17.5" lengthAdjust="spacingAndGlyphs">(b)</text>
<text x="39.1" y="634.2" font-size="15.8" font-weight="bold" text-anchor="middle" fill="#000" stroke="#000" stroke-width="0.35" textLength="163.2" lengthAdjust="spacingAndGlyphs" transform="rotate(-90 39.1 634.2)">Imaginary Permittivity</text>
<text x="653.3" y="635" font-size="15.8" font-weight="bold" text-anchor="middle" fill="#000" stroke="#000" stroke-width="0.35" textLength="166.2" lengthAdjust="spacingAndGlyphs" transform="rotate(-90 653.3 635)">Imaginary Permeability</text>
<defs><clipPath id="cc"><rect x="79" y="943.5" width="539" height="400"/></clipPath></defs>
<rect x="79.5" y="943.5" width="538" height="397" fill="#fff" stroke="#c4c4c4" stroke-width="1"/>
<line x1="79.5" y1="943.5" x2="86" y2="943.5" stroke="#c4c4c4" stroke-width="1"/>
<line x1="79.5" y1="1009.7" x2="86" y2="1009.7" stroke="#c4c4c4" stroke-width="1"/>
<line x1="79.5" y1="1075.8" x2="86" y2="1075.8" stroke="#c4c4c4" stroke-width="1"/>
<line x1="79.5" y1="1142" x2="86" y2="1142" stroke="#c4c4c4" stroke-width="1"/>
<line x1="79.5" y1="1208.2" x2="86" y2="1208.2" stroke="#c4c4c4" stroke-width="1"/>
<line x1="79.5" y1="1274.3" x2="86" y2="1274.3" stroke="#c4c4c4" stroke-width="1"/>
<line x1="79.5" y1="1340.5" x2="86" y2="1340.5" stroke="#c4c4c4" stroke-width="1"/>
<line x1="611" y1="943.5" x2="617.5" y2="943.5" stroke="#c4c4c4" stroke-width="1"/>
<line x1="611" y1="983.2" x2="617.5" y2="983.2" stroke="#c4c4c4" stroke-width="1"/>
<line x1="611" y1="1022.9" x2="617.5" y2="1022.9" stroke="#c4c4c4" stroke-width="1"/>
<line x1="611" y1="1062.6" x2="617.5" y2="1062.6" stroke="#c4c4c4" stroke-width="1"/>
<line x1="611" y1="1102.3" x2="617.5" y2="1102.3" stroke="#c4c4c4" stroke-width="1"/>
<line x1="611" y1="1142" x2="617.5" y2="1142" stroke="#c4c4c4" stroke-width="1"/>
<line x1="611" y1="1181.7" x2="617.5" y2="1181.7" stroke="#c4c4c4" stroke-width="1"/>
<line x1="611" y1="1221.4" x2="617.5" y2="1221.4" stroke="#c4c4c4" stroke-width="1"/>
<line x1="611" y1="1261.1" x2="617.5" y2="1261.1" stroke="#c4c4c4" stroke-width="1"/>
<line x1="611" y1="1300.8" x2="617.5" y2="1300.8" stroke="#c4c4c4" stroke-width="1"/>
<line x1="611" y1="1340.5" x2="617.5" y2="1340.5" stroke="#c4c4c4" stroke-width="1"/>
<path d="M79.9 1340C81.7 1339.9 87.7 1340 90.5 1339.3C93.3 1338.6 95 1337.6 96.6 1336C98.2 1334.4 99.1 1332.5 100.1 1329.5C101.1 1326.5 101.9 1323.2 102.6 1318.1C103.2 1313 103.6 1306.4 104 1298.8C104.4 1291.2 104.6 1280.7 104.8 1272.6C105 1264.5 105.2 1256.3 105.4 1250C105.6 1243.7 105.9 1237.2 106 1234.6C106.3 1237.5 107.1 1245.8 107.7 1252C108.3 1258.2 108.8 1265.3 109.7 1271.9C110.7 1278.5 111.8 1285.8 113.4 1291.8C115.1 1297.8 117.5 1302.5 119.6 1307.9C121.7 1313.3 123.9 1319.5 125.8 1324C127.7 1328.5 128.9 1332.7 130.8 1335.2C132.7 1337.7 134.7 1338.3 137 1339C139.3 1339.6 143.2 1339.5 144.5 1339.6L186.7 1339.6C188.3 1339.3 193.9 1338.8 196.6 1337.7C199.3 1336.6 201.2 1335 202.8 1332.7C204.4 1330.4 205.2 1327.9 206 1324C206.8 1320.1 207.2 1315.7 207.7 1309.1C208.2 1302.5 208.6 1295.9 209 1284.3C209.4 1272.7 209.9 1255.3 210.2 1239.6C210.5 1223.9 210.7 1212.4 210.9 1190C211.1 1167.6 211.1 1130.8 211.4 1105C211.7 1079.2 212.2 1060.2 212.5 1035C212.8 1009.8 213.3 967.3 213.5 953.8C213.7 967.3 214 1012.3 214.5 1035C215 1057.7 215.9 1075.8 216.5 1090C217.1 1104.2 217.5 1111.2 218 1120C218.5 1128.8 218.9 1134.4 219.6 1142.6C220.2 1150.8 221.1 1160.3 221.9 1169C222.7 1177.7 223.4 1188.4 224.2 1195C225 1201.6 225.8 1204.2 226.9 1208.5C228 1212.8 228.8 1215.7 230.7 1220.6C232.6 1225.5 235.7 1233.5 238.6 1238.1C241.5 1242.7 244.6 1245.5 248 1248C251.4 1250.5 254.9 1252 259 1253.2C263.1 1254.4 268.1 1255 272.5 1255C276.9 1255 281.4 1254.5 285.5 1252.9C289.6 1251.3 293.5 1248.8 296.8 1245.4C300.1 1242 303 1237.4 305.1 1232.3C307.2 1227.2 308.3 1221.5 309.5 1214.7C310.7 1207.9 311.6 1202.6 312.4 1191.4C313.2 1180.2 313.9 1162.2 314.5 1147.6C315.1 1133 315.5 1115.5 315.9 1103.8C316.3 1092.1 316.6 1081.9 316.8 1077.5C316.9 1089.2 317.5 1121.3 317.7 1147.6C317.9 1173.9 318 1211.5 318.2 1235.2C318.4 1259 318.7 1278 318.9 1290.1C319.1 1302.2 319.1 1302 319.6 1307.6C320.1 1313.1 320.8 1319.6 321.9 1323.4C323 1327.2 324.6 1328.9 326.3 1330.6C328.1 1332.3 330.5 1333.3 332.4 1333.7C334.3 1333.7 335.9 1333.7 337.7 1333.2C339.4 1332.3 341.3 1330.8 342.9 1328.6C344.5 1326.4 345.7 1322.8 347.3 1319.9C348.9 1317 350.6 1313.6 352.6 1311.1C354.7 1308.6 356.7 1306.9 359.6 1305C362.5 1303.1 365.4 1301.2 370.1 1299.7C374.8 1298.2 381.8 1297 387.6 1295.7C393.4 1294.5 399.7 1293.2 405.1 1292.2C410.5 1291.2 415.2 1290.5 420 1289.7C424.8 1288.9 428.5 1288.9 433.8 1287.6C439.1 1286.3 446.5 1284.2 452 1282C457.5 1279.8 462.6 1277.6 466.6 1274.7C470.6 1271.8 473.1 1268.8 475.8 1264.6C478.6 1260.4 481.1 1255.3 483.1 1249.4C485.1 1243.5 486.6 1235.8 487.8 1229.3C489 1222.8 490 1213.6 490.4 1210.5C490.8 1214.2 492.1 1223.2 492.9 1233C493.7 1242.8 494.4 1258.5 495.1 1269.5C495.8 1280.5 496.2 1290.8 496.9 1298.7C497.6 1306.6 498.1 1311.9 499.5 1316.9C500.9 1321.9 502.6 1325.7 505 1328.6C507.4 1331.5 511.1 1333.3 514.1 1334.5C517.1 1335.7 520.2 1335.9 523.2 1335.9C526.2 1335.7 529.6 1335 532.3 1333.4C535 1331.8 537.2 1328.5 539.6 1326.1C542 1323.7 543.2 1321.4 546.9 1318.8C550.5 1316.2 556 1313 561.5 1310.4C567 1307.8 574.3 1305.7 579.8 1303.4C585.3 1301.2 590.1 1299.5 594.4 1296.9C598.6 1294.3 602.1 1290.3 605.3 1287.7C608.5 1285.1 612 1282.3 613.4 1281.2C613.9 1282.3 615.5 1284.2 616.3 1287.7C617.1 1291.2 617.8 1299.9 618.1 1302.3" fill="none" stroke="#000" stroke-width="6.1" stroke-linecap="round" stroke-linejoin="round" clip-path="url(#cc)"/>
<path d="M79.4 1125.2L80.4 1125.7" fill="none" stroke="#ff0000" stroke-width="5.8" stroke-linecap="round" stroke-linejoin="round" clip-path="url(#cc)"/>
<path d="M88.5 1130.2L92.5 1133.5L96.2 1138.2" fill="none" stroke="#ff0000" stroke-width="5.8" stroke-linecap="round" stroke-linejoin="round" clip-path="url(#cc)"/>
<path d="M99 1147.4L102.6 1158.8" fill="none" stroke="#ff0000" stroke-width="5.8" stroke-linecap="round" stroke-linejoin="round" clip-path="url(#cc)"/>
<path d="M104.6 1162.9L104.7 1170.5" fill="none" stroke="#ff0000" stroke-width="5.8" stroke-linecap="round" stroke-linejoin="round" clip-path="url(#cc)"/>
<path d="M105.3 1149.7L106.3 1138.9" fill="none" stroke="#ff0000" stroke-width="5.8" stroke-linecap="round" stroke-linejoin="round" clip-path="url(#cc)"/>
<path d="M107.2 1127.2L108.5 1116.9" fill="none" stroke="#ff0000" stroke-width="5.8" stroke-linecap="round" stroke-linejoin="round" clip-path="url(#cc)"/>
<path d="M113.4 1106.9L116.5 1105.9L122.8 1106.1" fill="none" stroke="#ff0000" stroke-width="5.8" stroke-linecap="round" stroke-linejoin="round" clip-path="url(#cc)"/>
<path d="M131.3 1112.1L136.4 1116.8" fill="none" stroke="#ff0000" stroke-width="5.8" stroke-linecap="round" stroke-linejoin="round" clip-path="url(#cc)"/>
<path d="M145.8 1123.1L152.2 1126.7" fill="none" stroke="#ff0000" stroke-width="5.8" stroke-linecap="round" stroke-linejoin="round" clip-path="url(#cc)"/>
<path d="M161.9 1132.7L167.5 1136.1" fill="none" stroke="#ff0000" stroke-width="5.8" stroke-linecap="round" stroke-linejoin="round" clip-path="url(#cc)"/>
<path d="M176 1142.3L181.3 1146.3" fill="none" stroke="#ff0000" stroke-width="5.8" stroke-linecap="round" stroke-linejoin="round" clip-path="url(#cc)"/>
<path d="M188 1155L191 1158L193.3 1162.6" fill="none" stroke="#ff0000" stroke-width="5.8" stroke-linecap="round" stroke-linejoin="round" clip-path="url(#cc)"/>
<path d="M197.5 1174.6L200.5 1183" fill="none" stroke="#ff0000" stroke-width="5.8" stroke-linecap="round" stroke-linejoin="round" clip-path="url(#cc)"/>
<path d="M203.5 1196.5L204.5 1204.9" fill="none" stroke="#ff0000" stroke-width="5.8" stroke-linecap="round" stroke-linejoin="round" clip-path="url(#cc)"/>
<path d="M206.5 1217.8L207.3 1226.3" fill="none" stroke="#ff0000" stroke-width="5.8" stroke-linecap="round" stroke-linejoin="round" clip-path="url(#cc)"/>
<path d="M207.8 1240.9L208.7 1249.4" fill="none" stroke="#ff0000" stroke-width="5.8" stroke-linecap="round" stroke-linejoin="round" clip-path="url(#cc)"/>
<path d="M209.2 1264.1L210 1273.1" fill="none" stroke="#ff0000" stroke-width="5.8" stroke-linecap="round" stroke-linejoin="round" clip-path="url(#cc)"/>
<path d="M210.3 1286L210.9 1296.8" fill="none" stroke="#ff0000" stroke-width="5.8" stroke-linecap="round" stroke-linejoin="round" clip-path="url(#cc)"/>
<path d="M211.1 1308.5L211.3 1319.3" fill="none" stroke="#ff0000" stroke-width="5.8" stroke-linecap="round" stroke-linejoin="round" clip-path="url(#cc)"/>
<path d="M211.3 1330.4L211.3 1335.3" fill="none" stroke="#ff0000" stroke-width="5.8" stroke-linecap="round" stroke-linejoin="round" clip-path="url(#cc)"/>
<path d="M212.2 1297.9L212.4 1290.1" fill="none" stroke="#ff0000" stroke-width="5.8" stroke-linecap="round" stroke-linejoin="round" clip-path="url(#cc)"/>
<path d="M212.5 1275.4L212.6 1267.6" fill="none" stroke="#ff0000" stroke-width="5.8" stroke-linecap="round" stroke-linejoin="round" clip-path="url(#cc)"/>
<path d="M212.8 1252.9L212.9 1245.1" fill="none" stroke="#ff0000" stroke-width="5.8" stroke-linecap="round" stroke-linejoin="round" clip-path="url(#cc)"/>
<path d="M213 1231.6L213 1222.6" fill="none" stroke="#ff0000" stroke-width="5.8" stroke-linecap="round" stroke-linejoin="round" clip-path="url(#cc)"/>
<path d="M213.2 1208.5L213.2 1199.5" fill="none" stroke="#ff0000" stroke-width="5.8" stroke-linecap="round" stroke-linejoin="round" clip-path="url(#cc)"/>
<path d="M213.3 1187L214.2 1177" fill="none" stroke="#ff0000" stroke-width="5.8" stroke-linecap="round" stroke-linejoin="round" clip-path="url(#cc)"/>
<path d="M213.9 1164.2L214.7 1153.3" fill="none" stroke="#ff0000" stroke-width="5.8" stroke-linecap="round" stroke-linejoin="round" clip-path="url(#cc)"/>
<path d="M215.1 1141.4L215.6 1132.3" fill="none" stroke="#ff0000" stroke-width="5.8" stroke-linecap="round" stroke-linejoin="round" clip-path="url(#cc)"/>
<path d="M216.6 1119.5L217.5 1113.5L219.3 1110.7" fill="none" stroke="#ff0000" stroke-width="5.8" stroke-linecap="round" stroke-linejoin="round" clip-path="url(#cc)"/>
<path d="M228.7 1104.9L232 1103.8L236.5 1103.4" fill="none" stroke="#ff0000" stroke-width="5.8" stroke-linecap="round" stroke-linejoin="round" clip-path="url(#cc)"/>
<path d="M248.8 1103.3L258.4 1103.3" fill="none" stroke="#ff0000" stroke-width="5.8" stroke-linecap="round" stroke-linejoin="round" clip-path="url(#cc)"/>
<path d="M271.2 1103.3L281.2 1103.3" fill="none" stroke="#ff0000" stroke-width="5.8" stroke-linecap="round" stroke-linejoin="round" clip-path="url(#cc)"/>
<path d="M293.7 1103.3L304 1103.3" fill="none" stroke="#ff0000" stroke-width="5.8" stroke-linecap="round" stroke-linejoin="round" clip-path="url(#cc)"/>
<path d="M311.4 1097.8L313.8 1094L315.5 1088.2" fill="none" stroke="#ff0000" stroke-width="5.8" stroke-linecap="round" stroke-linejoin="round" clip-path="url(#cc)"/>
<path d="M315.4 1075.4L315.4 1066.4" fill="none" stroke="#ff0000" stroke-width="5.8" stroke-linecap="round" stroke-linejoin="round" clip-path="url(#cc)"/>
<path d="M315.8 1053.5L316 1043.3" fill="none" stroke="#ff0000" stroke-width="5.8" stroke-linecap="round" stroke-linejoin="round" clip-path="url(#cc)"/>
<path d="M316.1 1030.4L316.3 1021.4" fill="none" stroke="#ff0000" stroke-width="5.8" stroke-linecap="round" stroke-linejoin="round" clip-path="url(#cc)"/>
<path d="M316.9 1009.6L316.9 998.8" fill="none" stroke="#ff0000" stroke-width="5.8" stroke-linecap="round" stroke-linejoin="round" clip-path="url(#cc)"/>
<path d="M317.3 987.1L317.3 976.9" fill="none" stroke="#ff0000" stroke-width="5.8" stroke-linecap="round" stroke-linejoin="round" clip-path="url(#cc)"/>
<path d="M317.3 965.8L317.3 960.9" fill="none" stroke="#ff0000" stroke-width="5.8" stroke-linecap="round" stroke-linejoin="round" clip-path="url(#cc)"/>
<path d="M320 978.7L320.4 988.3" fill="none" stroke="#ff0000" stroke-width="5.8" stroke-linecap="round" stroke-linejoin="round" clip-path="url(#cc)"/>
<path d="M320.7 1001.2L321.1 1010.8" fill="none" stroke="#ff0000" stroke-width="5.8" stroke-linecap="round" stroke-linejoin="round" clip-path="url(#cc)"/>
<path d="M321.7 1023.7L323 1033.3" fill="none" stroke="#ff0000" stroke-width="5.8" stroke-linecap="round" stroke-linejoin="round" clip-path="url(#cc)"/>
<path d="M324.3 1046.1L326.3 1054.7" fill="none" stroke="#ff0000" stroke-width="5.8" stroke-linecap="round" stroke-linejoin="round" clip-path="url(#cc)"/>
<path d="M329 1067.2L333.3 1075.2" fill="none" stroke="#ff0000" stroke-width="5.8" stroke-linecap="round" stroke-linejoin="round" clip-path="url(#cc)"/>
<path d="M338.1 1086L343.2 1094.2" fill="none" stroke="#ff0000" stroke-width="5.8" stroke-linecap="round" stroke-linejoin="round" clip-path="url(#cc)"/>
<path d="M351 1099.2L359.4 1101" fill="none" stroke="#ff0000" stroke-width="5.8" stroke-linecap="round" stroke-linejoin="round" clip-path="url(#cc)"/>
<path d="M372.1 1102L381.5 1102.1" fill="none" stroke="#ff0000" stroke-width="5.8" stroke-linecap="round" stroke-linejoin="round" clip-path="url(#cc)"/>
<path d="M393.1 1102.2L403.7 1102.2" fill="none" stroke="#ff0000" stroke-width="5.8" stroke-linecap="round" stroke-linejoin="round" clip-path="url(#cc)"/>
<path d="M415.8 1102.2L425.9 1102.2" fill="none" stroke="#ff0000" stroke-width="5.8" stroke-linecap="round" stroke-linejoin="round" clip-path="url(#cc)"/>
<path d="M438.2 1102.2L448.1 1102.2" fill="none" stroke="#ff0000" stroke-width="5.8" stroke-linecap="round" stroke-linejoin="round" clip-path="url(#cc)"/>
<path d="M460.9 1101.3L470.2 1099.9" fill="none" stroke="#ff0000" stroke-width="5.8" stroke-linecap="round" stroke-linejoin="round" clip-path="url(#cc)"/>
<path d="M480.3 1095.8L484 1093L486.6 1089.2" fill="none" stroke="#ff0000" stroke-width="5.8" stroke-linecap="round" stroke-linejoin="round" clip-path="url(#cc)"/>
<path d="M488 1079.1L490.6 1067.2" fill="none" stroke="#ff0000" stroke-width="5.8" stroke-linecap="round" stroke-linejoin="round" clip-path="url(#cc)"/>
<path d="M490.9 1055.7L493 1045" fill="none" stroke="#ff0000" stroke-width="5.8" stroke-linecap="round" stroke-linejoin="round" clip-path="url(#cc)"/>
<path d="M493.6 1034.3L494.8 1031L496.1 1034.3" fill="none" stroke="#ff0000" stroke-width="5.8" stroke-linecap="round" stroke-linejoin="round" clip-path="url(#cc)"/>
<path d="M498.7 1044.9L502.8 1054.7" fill="none" stroke="#ff0000" stroke-width="5.8" stroke-linecap="round" stroke-linejoin="round" clip-path="url(#cc)"/>
<path d="M506.6 1065.6L511.6 1073.7" fill="none" stroke="#ff0000" stroke-width="5.8" stroke-linecap="round" stroke-linejoin="round" clip-path="url(#cc)"/>
<path d="M519.9 1082.8L525.2 1088" fill="none" stroke="#ff0000" stroke-width="5.8" stroke-linecap="round" stroke-linejoin="round" clip-path="url(#cc)"/>
<path d="M532.8 1095.1L539.9 1099.6" fill="none" stroke="#ff0000" stroke-width="5.8" stroke-linecap="round" stroke-linejoin="round" clip-path="url(#cc)"/>
<path d="M552.3 1101.3L561.7 1101.3" fill="none" stroke="#ff0000" stroke-width="5.8" stroke-linecap="round" stroke-linejoin="round" clip-path="url(#cc)"/>
<path d="M574.5 1101.3L583.9 1101.3" fill="none" stroke="#ff0000" stroke-width="5.8" stroke-linecap="round" stroke-linejoin="round" clip-path="url(#cc)"/>
<path d="M596.6 1099.9L602 1098.6L605.2 1097.1" fill="none" stroke="#ff0000" stroke-width="5.8" stroke-linecap="round" stroke-linejoin="round" clip-path="url(#cc)"/>
<path d="M611.9 1090.1L615 1086L618.3 1079.1" fill="none" stroke="#ff0000" stroke-width="5.8" stroke-linecap="round" stroke-linejoin="round" clip-path="url(#cc)"/>
<path d="M360.2 977.1L409.1 977.1" fill="none" stroke="#000" stroke-width="6" stroke-linecap="butt" stroke-linejoin="round"/>
<circle cx="360.2" cy="977.1" r="3.0" fill="#000"/>
<path d="M360.2 1014L371.3 1014M382.8 1014L393.8 1014" fill="none" stroke="#ff0000" stroke-width="6" stroke-linecap="round" stroke-linejoin="round"/>
<path d="M405.1 1014L409.1 1014" fill="none" stroke="#ff0000" stroke-width="6" stroke-linecap="butt" stroke-linejoin="round"/>
<circle cx="405.1" cy="1014" r="3.0" fill="#ff0000"/>
<text x="423.8" y="983.5" font-size="17" font-weight="bold" text-anchor="start" fill="#000" stroke="#000" stroke-width="0.35" textLength="59.6" lengthAdjust="spacingAndGlyphs">Real (z)</text>
<text x="423.8" y="1016.5" font-size="17" font-weight="bold" text-anchor="start" fill="#000" stroke="#000" stroke-width="0.35" textLength="64.6" lengthAdjust="spacingAndGlyphs">Imag (z)</text>
<text x="62.4" y="950.8" font-size="17.6" font-weight="bold" text-anchor="end" fill="#000" stroke="#000" stroke-width="0.35" textLength="19.2" lengthAdjust="spacingAndGlyphs">12</text>
<text x="62.4" y="1017" font-size="17.6" font-weight="bold" text-anchor="end" fill="#000" stroke="#000" stroke-width="0.35" textLength="19.2" lengthAdjust="spacingAndGlyphs">10</text>
<text x="62.4" y="1083.1" font-size="17.6" font-weight="bold" text-anchor="end" fill="#000" stroke="#000" stroke-width="0.35" textLength="9.6" lengthAdjust="spacingAndGlyphs">8</text>
<text x="62.4" y="1149.3" font-size="17.6" font-weight="bold" text-anchor="end" fill="#000" stroke="#000" stroke-width="0.35" textLength="9.6" lengthAdjust="spacingAndGlyphs">6</text>
<text x="62.4" y="1215.5" font-size="17.6" font-weight="bold" text-anchor="end" fill="#000" stroke="#000" stroke-width="0.35" textLength="9.6" lengthAdjust="spacingAndGlyphs">4</text>
<text x="62.4" y="1281.6" font-size="17.6" font-weight="bold" text-anchor="end" fill="#000" stroke="#000" stroke-width="0.35" textLength="9.6" lengthAdjust="spacingAndGlyphs">2</text>
<text x="62.4" y="1347.8" font-size="17.6" font-weight="bold" text-anchor="end" fill="#000" stroke="#000" stroke-width="0.35" textLength="9.6" lengthAdjust="spacingAndGlyphs">0</text>
<text x="636.2" y="951" font-size="17.6" font-weight="bold" text-anchor="start" fill="#000" stroke="#000" stroke-width="0.35" textLength="9.6" lengthAdjust="spacingAndGlyphs">8</text>
<text x="636.2" y="990.7" font-size="17.6" font-weight="bold" text-anchor="start" fill="#000" stroke="#000" stroke-width="0.35" textLength="9.6" lengthAdjust="spacingAndGlyphs">6</text>
<text x="636.2" y="1030.4" font-size="17.6" font-weight="bold" text-anchor="start" fill="#000" stroke="#000" stroke-width="0.35" textLength="9.6" lengthAdjust="spacingAndGlyphs">4</text>
<text x="636.2" y="1070.1" font-size="17.6" font-weight="bold" text-anchor="start" fill="#000" stroke="#000" stroke-width="0.35" textLength="9.6" lengthAdjust="spacingAndGlyphs">2</text>
<text x="636.2" y="1109.8" font-size="17.6" font-weight="bold" text-anchor="start" fill="#000" stroke="#000" stroke-width="0.35" textLength="9.6" lengthAdjust="spacingAndGlyphs">0</text>
<text x="636.2" y="1149.5" font-size="17.6" font-weight="bold" text-anchor="start" fill="#000" stroke="#000" stroke-width="0.35" textLength="15.4" lengthAdjust="spacingAndGlyphs">-2</text>
<text x="636.2" y="1189.2" font-size="17.6" font-weight="bold" text-anchor="start" fill="#000" stroke="#000" stroke-width="0.35" textLength="15.4" lengthAdjust="spacingAndGlyphs">-4</text>
<text x="636.2" y="1228.9" font-size="17.6" font-weight="bold" text-anchor="start" fill="#000" stroke="#000" stroke-width="0.35" textLength="15.4" lengthAdjust="spacingAndGlyphs">-6</text>
<text x="636.2" y="1268.6" font-size="17.6" font-weight="bold" text-anchor="start" fill="#000" stroke="#000" stroke-width="0.35" textLength="15.4" lengthAdjust="spacingAndGlyphs">-8</text>
<text x="636.2" y="1308.3" font-size="17.6" font-weight="bold" text-anchor="start" fill="#000" stroke="#000" stroke-width="0.35" textLength="25" lengthAdjust="spacingAndGlyphs">-10</text>
<text x="636.2" y="1348" font-size="17.6" font-weight="bold" text-anchor="start" fill="#000" stroke="#000" stroke-width="0.35" textLength="25" lengthAdjust="spacingAndGlyphs">-12</text>
<text x="80" y="1373.3" font-size="17.6" font-weight="bold" text-anchor="middle" fill="#000" stroke="#000" stroke-width="0.35" textLength="9.7" lengthAdjust="spacingAndGlyphs">6</text>
<text x="133.8" y="1373.3" font-size="17.6" font-weight="bold" text-anchor="middle" fill="#000" stroke="#000" stroke-width="0.35" textLength="9.7" lengthAdjust="spacingAndGlyphs">8</text>
<text x="187.6" y="1373.3" font-size="17.6" font-weight="bold" text-anchor="middle" fill="#000" stroke="#000" stroke-width="0.35" textLength="19.4" lengthAdjust="spacingAndGlyphs">10</text>
<text x="241.4" y="1373.3" font-size="17.6" font-weight="bold" text-anchor="middle" fill="#000" stroke="#000" stroke-width="0.35" textLength="19.4" lengthAdjust="spacingAndGlyphs">12</text>
<text x="295.2" y="1373.3" font-size="17.6" font-weight="bold" text-anchor="middle" fill="#000" stroke="#000" stroke-width="0.35" textLength="19.4" lengthAdjust="spacingAndGlyphs">14</text>
<text x="349" y="1373.3" font-size="17.6" font-weight="bold" text-anchor="middle" fill="#000" stroke="#000" stroke-width="0.35" textLength="19.4" lengthAdjust="spacingAndGlyphs">16</text>
<text x="402.8" y="1373.3" font-size="17.6" font-weight="bold" text-anchor="middle" fill="#000" stroke="#000" stroke-width="0.35" textLength="19.4" lengthAdjust="spacingAndGlyphs">18</text>
<text x="456.6" y="1373.3" font-size="17.6" font-weight="bold" text-anchor="middle" fill="#000" stroke="#000" stroke-width="0.35" textLength="19.4" lengthAdjust="spacingAndGlyphs">20</text>
<text x="510.4" y="1373.3" font-size="17.6" font-weight="bold" text-anchor="middle" fill="#000" stroke="#000" stroke-width="0.35" textLength="19.4" lengthAdjust="spacingAndGlyphs">22</text>
<text x="564.2" y="1373.3" font-size="17.6" font-weight="bold" text-anchor="middle" fill="#000" stroke="#000" stroke-width="0.35" textLength="19.4" lengthAdjust="spacingAndGlyphs">24</text>
<text x="618" y="1373.3" font-size="17.6" font-weight="bold" text-anchor="middle" fill="#000" stroke="#000" stroke-width="0.35" textLength="19.4" lengthAdjust="spacingAndGlyphs">26</text>
<text x="348.7" y="1402.8" font-size="17.6" font-weight="bold" text-anchor="middle" fill="#000" stroke="#000" stroke-width="0.35" textLength="135.3" lengthAdjust="spacingAndGlyphs">Frequency [GHz]</text>
<text x="352" y="1432" font-size="15.5" font-weight="normal" text-anchor="middle" fill="#222" textLength="15.7" lengthAdjust="spacingAndGlyphs">(c)</text>
<text x="35.5" y="1143.2" font-size="18" font-weight="bold" text-anchor="middle" fill="#000" stroke="#000" stroke-width="0.35" textLength="130.9" lengthAdjust="spacingAndGlyphs" transform="rotate(-90 35.5 1143.2)">Real Impedance</text>
<text x="679.3" y="1142.5" font-size="18" font-weight="bold" text-anchor="middle" fill="#000" stroke="#000" stroke-width="0.35" textLength="177" lengthAdjust="spacingAndGlyphs" transform="rotate(-90 679.3 1142.5)">Imaginary Impedance</text>
</svg></body></html>
